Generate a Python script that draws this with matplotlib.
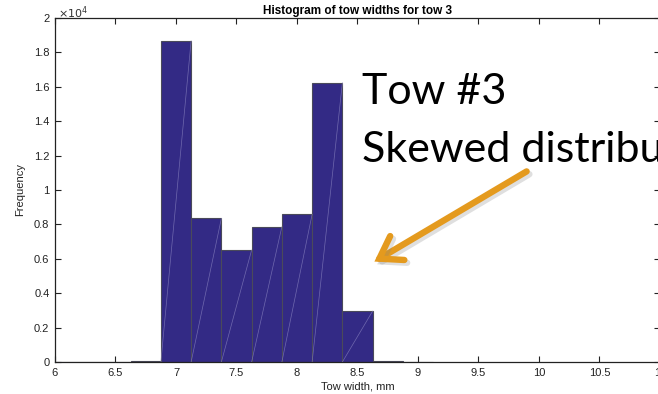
import matplotlib
matplotlib.use("Agg")
import matplotlib.pyplot as plt
import matplotlib.patheffects as pe
import numpy as np

# Data
bin_centers = [6.0, 6.25, 6.5, 6.75, 7.0, 7.25, 7.5, 7.75, 8.0, 8.25, 8.5, 8.75, 9.0]
counts = [8, 0, 0, 30, 18680, 8350, 6510, 7870, 8590, 16240, 2960, 40, 0]
bin_width = 0.25
x_ticks = [6, 6.5, 7, 7.5, 8, 8.5, 9, 9.5, 10, 10.5, 11]
y_ticks = [0, 2000, 4000, 6000, 8000, 10000, 12000, 14000, 16000, 18000, 20000]
title = "Histogram of tow widths for tow 3"
xlabel = "Tow width, mm"
ylabel = "Frequency"
note_line1 = "Tow #3"
note_line2 = "Skewed distribution"

plt.rcParams['font.family'] = ['Liberation Sans', 'DejaVu Sans']

fig = plt.figure(figsize=(6.58, 3.94), dpi=100)
ax = fig.add_axes([55/658, 32/394, 605/658, 344/394])

bar_color = '#332A85'
ax.bar(bin_centers, counts, width=bin_width, color=bar_color,
       edgecolor='#4a4a5a', linewidth=0.8, zorder=2)
# faint diagonal render lines inside bars
for c, h in zip(bin_centers, counts):
    if h > 100:
        ax.plot([c - bin_width/2, c + bin_width/2], [0, h], color='#8a84c0',
                linewidth=0.5, alpha=0.7, zorder=3)

ax.set_xlim(6, 11)
ax.set_ylim(0, 20000)
ax.set_xticks(x_ticks)
ax.set_xticklabels([f"{t:g}" for t in x_ticks])
ax.set_yticks(y_ticks)
ax.set_yticklabels([f"{t/1e4:g}" for t in y_ticks])
ax.tick_params(direction='in', length=4.3, width=0.8, top=True, right=True,
               labelsize=8, colors='#222222', pad=4)
for s in ax.spines.values():
    s.set_linewidth(0.9)
    s.set_color('#222222')

ax.set_title(title, fontsize=8.5, fontweight='bold', pad=3)
ax.set_xlabel(xlabel, fontsize=8, labelpad=3, color='#222222')
ax.set_ylabel(ylabel, fontsize=8, labelpad=6, color='#222222')
fig.text(58/658, 1 - 13/394, r"$\times10^4$", fontsize=8, color='#333333',
         ha='left', va='center')

# annotation text and arrow
fig.text(362/658, 1 - 104/394, note_line1, fontsize=31, family=['Lato', 'DejaVu Sans'],
         color='black', ha='left', va='baseline')
fig.text(362/658, 1 - 162/394, note_line2, fontsize=31,
         family=['Lato', 'DejaVu Sans'], color='black', ha='left', va='baseline')

fig.add_artist(matplotlib.patches.FancyArrowPatch(
    posA=(529/658, 1 - 170/394), posB=(372/658, 1 - 263/394),
    transform=fig.transFigure,
    arrowstyle='->,head_length=0.75,head_width=0.5', color='#E49A1E',
    linewidth=4.6, mutation_scale=20, capstyle='round', joinstyle='miter',
    path_effects=[pe.SimpleLineShadow(offset=(2, -2), alpha=0.25, shadow_color='gray'), pe.Normal()]))

fig.savefig("out.png", dpi=100)
